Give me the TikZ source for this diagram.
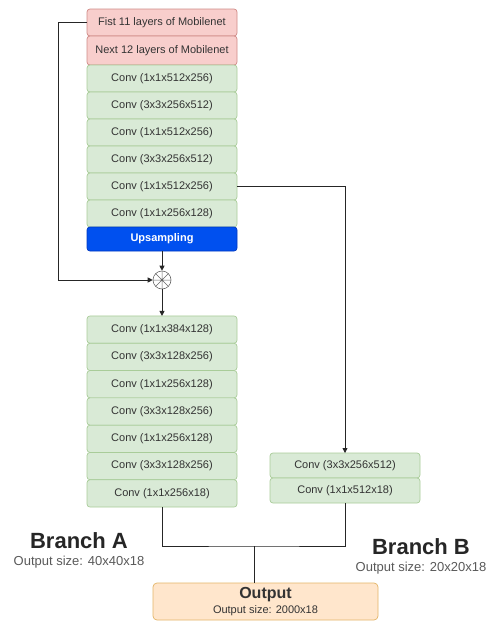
\documentclass[tikz,border=0pt]{standalone}
\usepackage{fontspec}
\setmainfont{Liberation Sans}
\usetikzlibrary{positioning,arrows.meta}
\definecolor{mobfill}{HTML}{F8CECC}
\definecolor{mobline}{HTML}{D08A87}
\definecolor{convfill}{HTML}{D9EAD6}
\definecolor{convline}{HTML}{A9CC99}
\definecolor{upfill}{HTML}{0050EF}
\definecolor{upline}{HTML}{0038C0}
\definecolor{outfill}{HTML}{FFE6CC}
\definecolor{outline}{HTML}{E3B466}
\definecolor{txtgray}{HTML}{333333}

\begin{document}
\begin{tikzpicture}[
  x=1pt, y=-1pt,
  node distance=0pt,
  layer/.style={draw, line width=0.7pt, rounded corners=3pt, minimum width=150pt,
    minimum height=27pt, inner sep=0pt, outer sep=0pt, text=txtgray,
    font=\fontsize{11}{13}\selectfont},
  mobl/.style={layer, fill=mobfill, draw=mobline},
  convl/.style={layer, fill=convfill, draw=convline},
  upl/.style={layer, fill=upfill, draw=upline, text=white, minimum height=24pt,
    font=\fontsize{11}{13}\selectfont\bfseries},
  outl/.style={draw=outline, fill=outfill, line width=0.7pt, rounded corners=4pt,
    minimum width=225pt, minimum height=37pt, inner sep=0pt, align=center, text=txtgray,
    font=\fontsize{11}{15}\selectfont},
  sumop/.style={circle, draw=black!60, line width=0.6pt, minimum size=18pt, inner sep=0pt,
    path picture={
      \draw[black!60, line width=0.5pt]
        (path picture bounding box.north) -- (path picture bounding box.south)
        (path picture bounding box.west) -- (path picture bounding box.east)
        (path picture bounding box.north west) -- (path picture bounding box.south east)
        (path picture bounding box.north east) -- (path picture bounding box.south west);}},
  link/.style={draw, line width=0.8pt, black!85},
  arrowlink/.style={link, -{Triangle[length=5pt,width=5pt]}},
  branchlbl/.style={text=black!85, font=\fontsize{22}{26}\selectfont\bfseries},
  sizelbl/.style={text=black!65, font=\fontsize{13}{15}\selectfont}
]
  \useasboundingbox (0,0) rectangle (493,621);

  \node[mobl] (m1) at (162,22.5) {Fist 11 layers of Mobilenet};
  \node[mobl, minimum height=29pt] (m2) [below=of m1] {Next 12 layers of Mobilenet};
  \node[convl] (c1) [below=of m2] {Conv (1x1x512x256)};
  \node[convl] (c2) [below=of c1] {Conv (3x3x256x512)};
  \node[convl] (c3) [below=of c2] {Conv (1x1x512x256)};
  \node[convl] (c4) [below=of c3] {Conv (3x3x256x512)};
  \node[convl] (c5) [below=of c4] {Conv (1x1x512x256)};
  \node[convl] (c6) [below=of c5] {Conv (1x1x256x128)};
  \node[upl] (up) [below=of c6] {Upsampling};

  \node[sumop] (sum) at (162,280) {};

  \node[convl, minimum height=27.3pt] (a1) at (162,329.6) {Conv (1x1x384x128)};
  \node[convl, minimum height=27.3pt] (a2) [below=of a1] {Conv (3x3x128x256)};
  \node[convl, minimum height=27.3pt] (a3) [below=of a2] {Conv (1x1x256x128)};
  \node[convl, minimum height=27.3pt] (a4) [below=of a3] {Conv (3x3x128x256)};
  \node[convl, minimum height=27.3pt] (a5) [below=of a4] {Conv (1x1x256x128)};
  \node[convl, minimum height=27.3pt] (a6) [below=of a5] {Conv (3x3x128x256)};
  \node[convl, minimum height=27.3pt] (a7) [below=of a6] {Conv (1x1x256x18)};

  \node[convl, minimum height=25pt] (b1) at (345,465.5) {Conv (3x3x256x512)};
  \node[convl, minimum height=25pt] (b2) [below=of b1] {Conv (1x1x512x18)};

  \node[outl] (out) at (265.5,601.5)
    {{\fontsize{16}{18}\selectfont\bfseries Output}\\Output size: 2000x18};

  \node[branchlbl] (brA) at (79,541) {Branch A};
  \node[sizelbl] (brAsize) [below=0pt of brA] {Output size: 40x40x18};
  \node[branchlbl] (brB) at (421,547) {Branch B};
  \node[sizelbl] (brBsize) [below=0pt of brB] {Output size: 20x20x18};

  \coordinate (junc) at (254,546);

  \draw[arrowlink] (m1.west) -- ++(-29,0) |- (sum.west);
  \draw[arrowlink] (up.south) -- (sum.north);
  \draw[arrowlink] (sum.south) -- (a1.north);
  \draw[arrowlink] (c5.east) -| (b1.north);
  \draw[link] (a7.south) |- (junc) -| (b2.south);
  \draw[link] (junc) -- (junc |- out.north);
\end{tikzpicture}
\end{document}
